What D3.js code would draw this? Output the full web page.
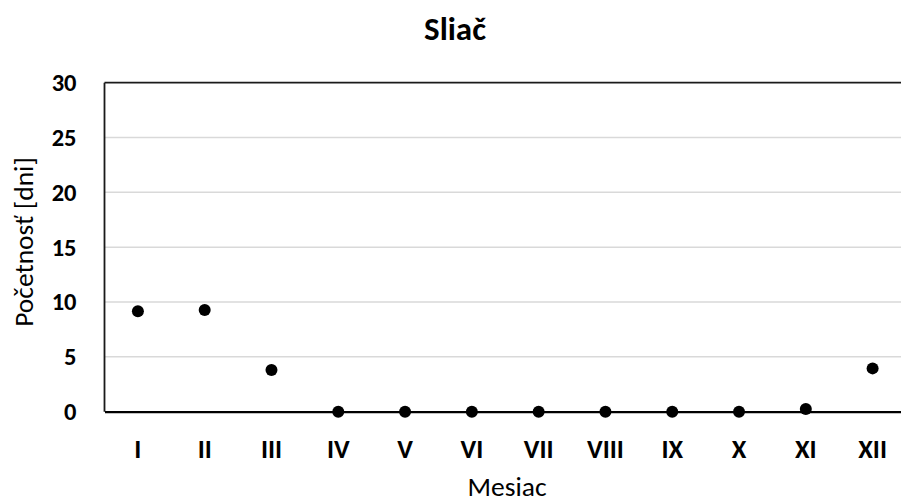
<!DOCTYPE html>
<html><head><meta charset="utf-8">
<script src="https://cdn.jsdelivr.net/npm/d3@7"></script>
<style>body{margin:0;background:#fff}svg{display:block}text{font-family:Carlito,Lato,"Liberation Sans",sans-serif}</style>
</head><body><svg id="c" width="901" height="504"></svg>
<script>
const months = ["I","II","III","IV","V","VI","VII","VIII","IX","X","XI","XII"];
const values = [9.15, 9.27, 3.8, 0, 0, 0, 0, 0, 0, 0, 0.25, 3.95];
const yTicks = [0, 5, 10, 15, 20, 25, 30];
const title = "Sliač";
const xTitle = "Mesiac";
const yTitle = "Početnosť [dni]";

const svg = d3.select("#c");
const m = {left:104.5, top:82.7, right:906, bottom:411.7};
const x = d3.scaleBand().domain(months).range([m.left, m.right]);
const y = d3.scaleLinear().domain([0,30]).range([m.bottom, m.top]);

// gridlines
svg.append("g").selectAll("line").data(yTicks.filter(d=>d>0 && d<30)).join("line")
  .attr("x1", m.left).attr("x2", m.right).attr("y1", d=>y(d)).attr("y2", d=>y(d))
  .attr("stroke", "#d9d9d9").attr("stroke-width", 1.5);

// border
svg.append("line").attr("x1", m.left).attr("x2", m.right).attr("y1", m.top).attr("y2", m.top)
  .attr("stroke", "#1a1a1a").attr("stroke-width", 1.8);
svg.append("line").attr("x1", m.left).attr("x2", m.left).attr("y1", m.top).attr("y2", m.bottom)
  .attr("stroke", "#1a1a1a").attr("stroke-width", 1.8);

// y axis labels
const ya = svg.append("g").attr("transform", `translate(${m.left},0)`)
  .call(d3.axisLeft(y).tickValues(yTicks).tickSize(0).tickPadding(28));
ya.select(".domain").remove();
ya.selectAll("text").attr("font-size", 24.5).attr("font-weight", "bold").attr("fill", "#000")
  .style("font-family", "Carlito,Lato,sans-serif");

// x axis
const xa = svg.append("g").attr("transform", `translate(0,${m.bottom})`)
  .call(d3.axisBottom(x).tickSize(0).tickPadding(27));
xa.select(".domain").attr("stroke", "#000").attr("stroke-width", 2.2);
xa.selectAll("text").attr("font-size", 26.5).attr("font-weight", "bold").attr("fill", "#000")
  .style("font-family", "Carlito,Lato,sans-serif");

// points
svg.append("g").selectAll("circle").data(values).join("circle")
  .attr("cx", (d,i)=>x(months[i]) + x.bandwidth()/2)
  .attr("cy", d=>y(d)).attr("r", 6).attr("fill", "#000");

// titles
svg.append("text").attr("x", 455).attr("y", 40).attr("text-anchor", "middle")
  .attr("font-size", 33).attr("font-weight", "bold").text(title);
svg.append("text").attr("x", 507).attr("y", 496).attr("text-anchor", "middle")
  .attr("font-size", 27.5).text(xTitle);
svg.append("text").attr("transform", "translate(33,242) rotate(-90)").attr("text-anchor", "middle")
  .attr("font-size", 27.5).text(yTitle);
</script></body></html>
